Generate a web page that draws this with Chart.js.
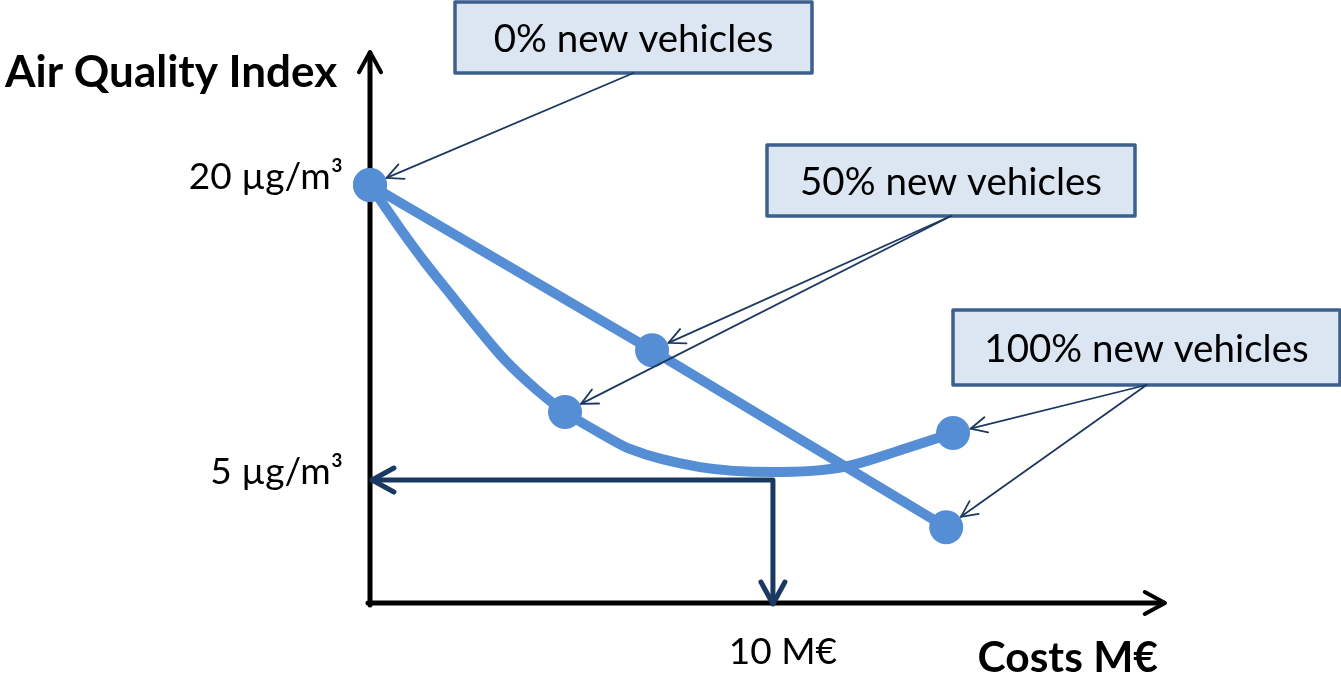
<!DOCTYPE html>
<html>
<head>
<meta charset="utf-8">
<script src="https://cdn.jsdelivr.net/npm/chart.js@4.4.1/dist/chart.umd.min.js"></script>
<style>
  html, body { margin: 0; padding: 0; background: #ffffff; }
  #wrap { width: 1341px; height: 681px; position: relative; }
</style>
</head>
<body>
<div id="wrap"><canvas id="chart"></canvas></div>
<script>
// Costs (M€) and air quality index (µg/m³) along the two renewal paths
const straightCost = [0, 7.0, 14.3];
const straightAqi  = [20, 11.6, 2.6];

const curveCost = [0, 0.74, 1.36, 1.99, 2.61, 3.35, 4.14, 4.84, 5.71, 6.45, 8.19, 10.0, 11.74, 13.33, 14.47];
const curveAqi  = [20, 17.81, 16.08, 14.46, 12.88, 11.10, 9.58, 8.46, 7.39, 6.58, 5.66, 5.41, 5.66, 6.63, 7.39];
const curveMarked = [0, 7, 14];   // indices of the 0%, 50%, 100% stages on the curve

// Axis ticks
const yTickValues = [5, 20];
const yTickLabels = ['5 µg/m³', '20 µg/m³'];
const xTickValues = [10];
const xTickLabels = ['10 M€'];

// Target read-off: cost for the desired air quality
const targetCost = 10;
const targetAqi = 5;

// Scenario call-outs and the stages they point to ([dataset, index])
const scenarioLabels = ['0% new vehicles', '50% new vehicles', '100% new vehicles'];
const scenarioTargets = [
  [[1, 0]],
  [[0, 1], [1, 7]],
  [[1, 14], [0, 2]]
];

const axisTitleY = 'Air Quality Index';
const axisTitleX = 'Costs M€';

const BLUE = '#558ed5';
const NAVY = '#1b3960';
const BOX_FILL = '#dce6f2';
const BOX_LINE = '#3d5f8c';
const FONT = 'Lato, "Open Sans", sans-serif';
const POINT_R = 17;

// Call-out box rectangles [left, top, right, bottom]
const boxRects = [
  [455, 2, 812, 73],
  [767, 145, 1135, 216],
  [953, 310, 1340, 385]
];

function arrowHead(ctx, tx, ty, fromX, fromY, len, ang) {
  const a = Math.atan2(fromY - ty, fromX - tx);
  ctx.beginPath();
  ctx.moveTo(tx + len * Math.cos(a + ang), ty + len * Math.sin(a + ang));
  ctx.lineTo(tx, ty);
  ctx.lineTo(tx + len * Math.cos(a - ang), ty + len * Math.sin(a - ang));
  ctx.stroke();
}

const diagram = {
  id: 'diagram',
  beforeDatasetsDraw(chart) {
    const { ctx, chartArea: ca, scales: { x, y } } = chart;
    ctx.save();
    ctx.lineCap = 'round';
    ctx.lineJoin = 'round';

    // axes with arrow tips
    ctx.strokeStyle = '#000';
    ctx.lineWidth = 5;
    ctx.beginPath();
    ctx.moveTo(ca.left, ca.bottom + 2);
    ctx.lineTo(ca.left, ca.top + 2);
    ctx.moveTo(ca.left - 2, ca.bottom);
    ctx.lineTo(ca.right - 2, ca.bottom);
    ctx.stroke();
    ctx.lineWidth = 4;
    arrowHead(ctx, ca.left, ca.top, ca.left, ca.top + 10, 23, 0.5);
    arrowHead(ctx, ca.right, ca.bottom, ca.right - 10, ca.bottom, 23, 0.5);

    // read-off arrows for the target
    const tx = x.getPixelForValue(targetCost);
    const ty = y.getPixelForValue(targetAqi);
    ctx.strokeStyle = NAVY;
    ctx.lineWidth = 5;
    ctx.lineCap = 'butt';
    ctx.beginPath();
    ctx.moveTo(ca.left + 3, ty);
    ctx.lineTo(tx, ty);
    ctx.lineTo(tx, ca.bottom - 2);
    ctx.stroke();
    ctx.lineCap = 'round';
    arrowHead(ctx, ca.left + 2, ty, tx, ty, 25, 0.5);
    arrowHead(ctx, tx, ca.bottom + 1, tx, ty, 25, 0.5);
    ctx.restore();
  },
  afterDatasetsDraw(chart) {
    const { ctx } = chart;
    ctx.save();

    // call-out boxes
    boxRects.forEach((r, i) => {
      ctx.fillStyle = BOX_FILL;
      ctx.strokeStyle = BOX_LINE;
      ctx.lineWidth = 3.5;
      ctx.lineJoin = 'round';
      ctx.fillRect(r[0], r[1], r[2] - r[0], r[3] - r[1]);
      ctx.strokeRect(r[0], r[1], r[2] - r[0], r[3] - r[1]);
      ctx.fillStyle = '#000';
      ctx.font = '38.5px ' + FONT;
      ctx.textAlign = 'center';
      ctx.textBaseline = 'alphabetic';
      ctx.fillText(scenarioLabels[i], (r[0] + r[2]) / 2, (r[1] + r[3]) / 2 + 14);

      // pointer arrows from box to the stage markers
      const ax = (r[0] + r[2]) / 2;
      const ay = r[3];
      ctx.strokeStyle = NAVY;
      ctx.lineWidth = 1.8;
      ctx.lineCap = 'round';
      scenarioTargets[i].forEach(([d, idx]) => {
        const el = chart.getDatasetMeta(d).data[idx];
        const dx = ax - el.x, dy = ay - el.y;
        const len = Math.hypot(dx, dy);
        const px = el.x + dx / len * (POINT_R + 1);
        const py = el.y + dy / len * (POINT_R + 1);
        ctx.beginPath();
        ctx.moveTo(ax, ay);
        ctx.lineTo(px, py);
        ctx.stroke();
        arrowHead(ctx, px, py, ax, ay, 18, 0.45);
      });
    });

    // axis titles
    ctx.fillStyle = '#000';
    ctx.textBaseline = 'alphabetic';
    ctx.textAlign = 'left';
    ctx.font = 'bold 44px ' + FONT;
    ctx.fillText(axisTitleY, 5, 87);
    ctx.textAlign = 'right';
    ctx.font = 'bold 42.5px ' + FONT;
    ctx.fillText(axisTitleX, 1158, 672);
    ctx.restore();
  }
};

const toPoints = (xs, ys) => xs.map((v, i) => ({ x: v, y: ys[i] }));

new Chart(document.getElementById('chart'), {
  type: 'scatter',
  data: {
    datasets: [
      {
        label: 'Linear path',
        data: toPoints(straightCost, straightAqi),
        showLine: true,
        clip: false,
        borderColor: BLUE,
        backgroundColor: BLUE,
        borderWidth: 10,
        pointRadius: POINT_R,
        pointHoverRadius: POINT_R,
        pointBorderWidth: 0,
        tension: 0
      },
      {
        label: 'Curved path',
        data: toPoints(curveCost, curveAqi),
        showLine: true,
        clip: false,
        borderColor: BLUE,
        backgroundColor: BLUE,
        borderWidth: 10,
        pointRadius: c => curveMarked.includes(c.dataIndex) ? POINT_R : 0,
        pointHoverRadius: c => curveMarked.includes(c.dataIndex) ? POINT_R : 0,
        pointBorderWidth: 0,
        cubicInterpolationMode: 'monotone'
      }
    ]
  },
  options: {
    responsive: true,
    maintainAspectRatio: false,
    animation: false,
    events: [],
    layout: { padding: { top: 52, right: 176, left: 0, bottom: 0 } },
    plugins: { legend: { display: false }, tooltip: { enabled: false } },
    scales: {
      x: {
        type: 'linear',
        min: 0,
        max: 19.73,
        grid: { display: false, drawTicks: false },
        border: { display: false },
        afterBuildTicks: s => { s.ticks = xTickValues.map(v => ({ value: v })); },
        afterFit: s => { s.height = 78; },
        ticks: {
          callback: (v, i) => xTickLabels[i],
          autoSkip: false,
          maxRotation: 0,
          padding: 27,
          labelOffset: 10,
          color: '#000',
          font: { family: FONT, size: 37 }
        }
      },
      y: {
        type: 'linear',
        min: -1.25,
        max: 26.76,
        grid: { display: false, drawTicks: false },
        border: { display: false },
        afterBuildTicks: s => { s.ticks = yTickValues.map(v => ({ value: v })); },
        afterFit: s => { s.width = 370; },
        ticks: {
          callback: (v, i) => yTickLabels[i],
          autoSkip: false,
          padding: 27,
          labelOffset: -8,
          color: '#000',
          font: { family: FONT, size: 37 }
        }
      }
    }
  },
  plugins: [diagram]
});
</script>
</body>
</html>
